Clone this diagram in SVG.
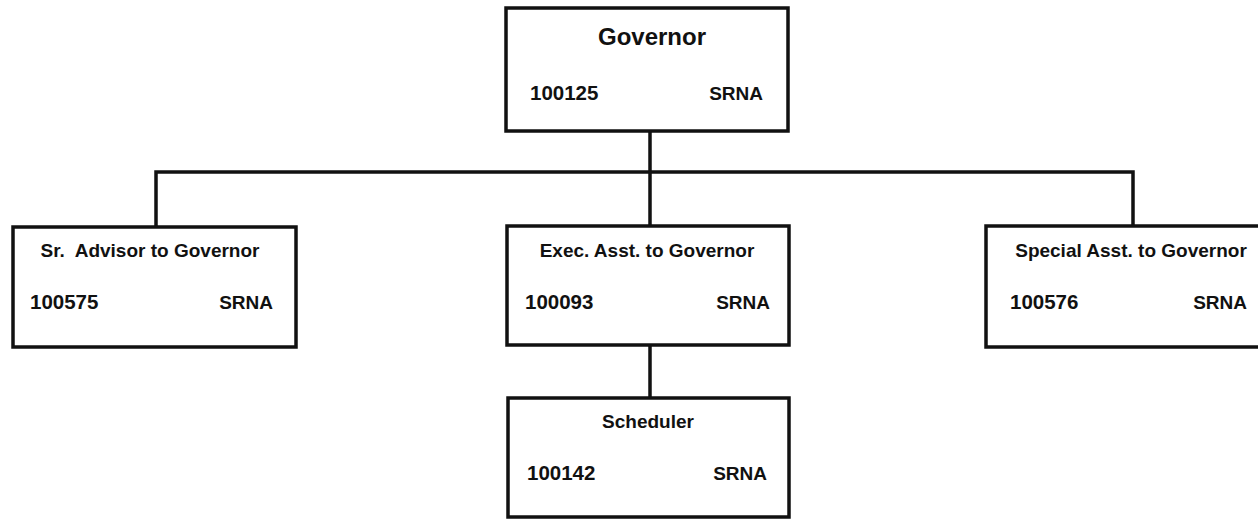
<svg xmlns="http://www.w3.org/2000/svg" width="1258" height="519" viewBox="0 0 1258 519">
<style>
.box{fill:#fff;stroke:#111;stroke-width:3.5}
.ln{fill:none;stroke:#111;stroke-width:3.5;stroke-linecap:square}
text{font-family:"Liberation Sans",Arial,sans-serif;font-weight:bold;fill:#111;font-size:19px}
.big{font-size:24px}
.num{font-size:20.5px}
.c{text-anchor:middle}
.r{text-anchor:end}
</style>
<rect width="1258" height="519" fill="#fff"/>
<g id="connectors">
<path class="ln" d="M650 131V172M156 172H1133M156 172V227M650 172V226M1133 172V226M650 345V398"/>
</g>
<g id="governor">
<rect class="box" x="506" y="8" width="282" height="123"/>
<text class="big c" x="652" y="45">Governor</text>
<text class="num" x="530" y="100">100125</text>
<text class="r" x="763" y="100">SRNA</text>
</g>
<g id="sr-advisor">
<rect class="box" x="13" y="227" width="283" height="120"/>
<text class="c" x="150" y="257" xml:space="preserve">Sr.  Advisor to Governor</text>
<text class="num" x="30" y="309">100575</text>
<text class="r" x="273" y="309">SRNA</text>
</g>
<g id="exec-asst">
<rect class="box" x="507" y="226" width="282" height="119"/>
<text class="c" x="647" y="257">Exec. Asst. to Governor</text>
<text class="num" x="525" y="309">100093</text>
<text class="r" x="770" y="309">SRNA</text>
</g>
<g id="special-asst">
<rect class="box" x="986" y="226" width="290" height="121"/>
<text class="c" x="1131" y="257">Special Asst. to Governor</text>
<text class="num" x="1010" y="309">100576</text>
<text class="r" x="1247" y="309">SRNA</text>
</g>
<g id="scheduler">
<rect class="box" x="508" y="398" width="281" height="119"/>
<text class="c" x="648" y="428">Scheduler</text>
<text class="num" x="527" y="480">100142</text>
<text class="r" x="767" y="480">SRNA</text>
</g>
</svg>
